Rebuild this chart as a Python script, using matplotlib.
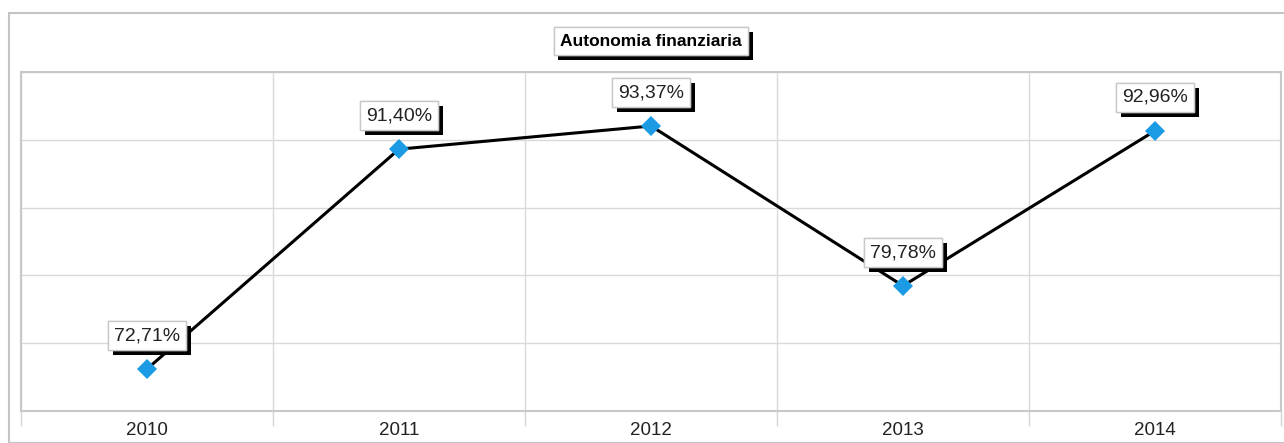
import numpy as np
import matplotlib
matplotlib.use("Agg")
import matplotlib.pyplot as plt
import matplotlib.patheffects as pe
from matplotlib.patches import Rectangle

plt.rcParams["font.family"] = ["Liberation Sans", "DejaVu Sans"]

# dati
anni = ["2010", "2011", "2012", "2013", "2014"]
valori = [72.71, 91.40, 93.37, 79.78, 92.96]

W, H = 1284, 443
fig = plt.figure(figsize=(W / 100, H / 100), dpi=100)
fig.patch.set_facecolor("white")

# cornice esterna
fig.patches.append(Rectangle((8.5 / W, 0), 2.0, (H - 12.5) / H, transform=fig.transFigure,
                             fill=False, edgecolor="#c4c4c4", linewidth=1.5))

ax = fig.add_axes([21 / W, 32 / H, 1260 / W, 339 / H])
x = np.arange(len(anni))

ymin, ymax = 69.14, 97.96
ax.set_xlim(-0.5, len(anni) - 0.5)
ax.set_ylim(ymin, ymax)

# griglia
ax.set_yticks(np.linspace(ymin, ymax, 6))
ax.set_yticklabels([])
ax.tick_params(axis="y", length=0)
ax.set_xticks(x)
ax.set_xticklabels(anni, fontsize=13.5, color="#222222")
ax.set_xticks(np.arange(-0.5, len(anni)), minor=True)
ax.tick_params(axis="x", which="major", length=0, pad=8)
ax.tick_params(axis="x", which="minor", length=11, color="#d4d4d4", width=1)
ax.grid(True, which="major", axis="y", color="#d9d9d9", linewidth=1)
ax.grid(True, which="minor", axis="x", color="#d9d9d9", linewidth=1)
for s in ax.spines.values():
    s.set_color("#c8c8c8")
    s.set_linewidth(1.5)

ax.plot(x, valori, color="black", linewidth=2.2, zorder=3)
ax.plot(x, valori, linestyle="none", marker="D", markersize=10.5,
        color="#1a9be3", markeredgewidth=0, zorder=5)

ombra = [pe.withSimplePatchShadow(offset=(3.5, -3.5), shadow_rgbFace="black", alpha=1), pe.Normal()]

for xi, v in zip(x, valori):
    t = ax.annotate(f"{v:.2f}%".replace(".", ","), (xi, v), xytext=(0, 24),
                    textcoords="offset points", ha="center", va="center",
                    fontsize=14, color="#222222", zorder=6,
                    bbox=dict(boxstyle="square,pad=0.3", facecolor="white",
                              edgecolor="#c8c8c8", linewidth=1))
    t.get_bbox_patch().set_path_effects(ombra)

tt = fig.text(651 / W, 1 - 41 / H, "Autonomia finanziaria", ha="center", va="center",
              fontsize=12.5, fontweight="bold", color="black",
              bbox=dict(boxstyle="square,pad=0.38", facecolor="white",
                        edgecolor="#c8c8c8", linewidth=1))
tt.get_bbox_patch().set_path_effects(ombra)

fig.savefig("out.png", dpi=100)
